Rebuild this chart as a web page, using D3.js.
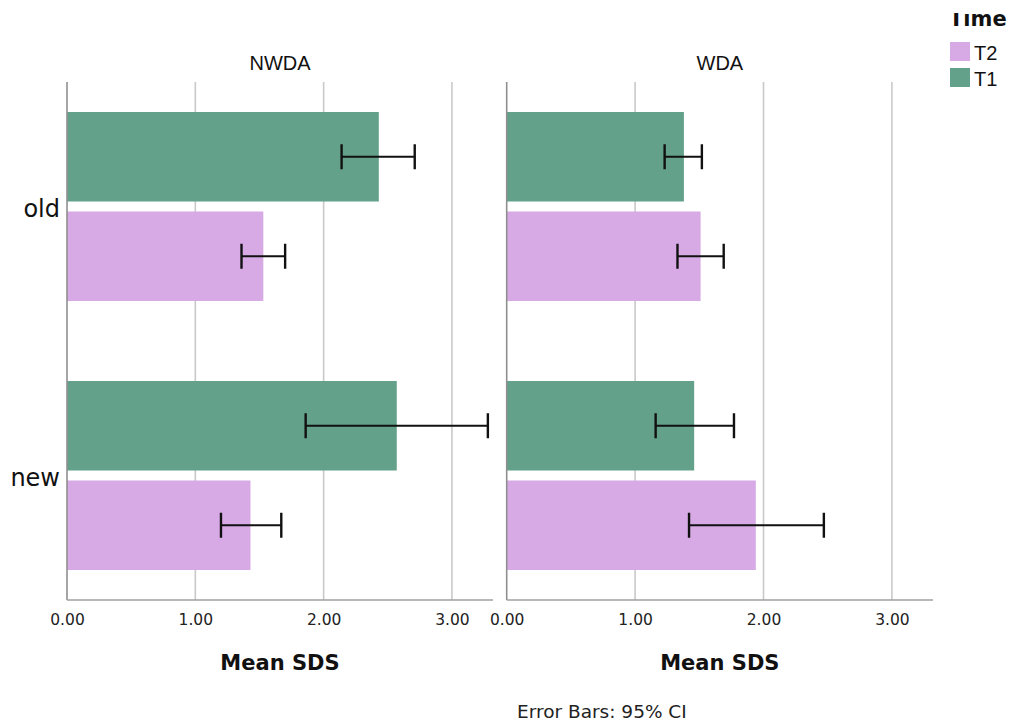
<!DOCTYPE html>
<html><head><meta charset="utf-8">
<script src="https://cdn.jsdelivr.net/npm/d3@7"></script>
<style>body{margin:0;background:#fff}svg{display:block}</style>
</head><body>
<script>
// ---- data ----
const panels = ["NWDA", "WDA"];
const categories = ["old", "new"];
const series = ["T1", "T2"];
const legendOrder = ["T2", "T1"];
const xTicks = [0, 1, 2, 3];
const xTickLabels = ["0.00", "1.00", "2.00", "3.00"];
// means [old, new]
const nwdaT1 = [2.43, 2.57];
const nwdaT2 = [1.53, 1.43];
const wdaT1 = [1.38, 1.46];
const wdaT2 = [1.51, 1.94];
// 95% CI lower / upper [old, new]
const nwdaT1Lo = [2.14, 1.86], nwdaT1Hi = [2.71, 3.28];
const nwdaT2Lo = [1.36, 1.20], nwdaT2Hi = [1.70, 1.67];
const wdaT1Lo = [1.23, 1.16], wdaT1Hi = [1.52, 1.77];
const wdaT2Lo = [1.33, 1.42], wdaT2Hi = [1.69, 2.47];

const colors = {T1: "#63a18b", T2: "#d7aae6"};

const panelData = {
  NWDA: {T1: {m: nwdaT1, lo: nwdaT1Lo, hi: nwdaT1Hi}, T2: {m: nwdaT2, lo: nwdaT2Lo, hi: nwdaT2Hi}},
  WDA: {T1: {m: wdaT1, lo: wdaT1Lo, hi: wdaT1Hi}, T2: {m: wdaT2, lo: wdaT2Lo, hi: wdaT2Hi}}
};

const W = 1014, H = 724;
const svg = d3.select("body").append("svg").attr("width", W).attr("height", H);

const panelX = {NWDA: [67, 493], WDA: [506.7, 933]};
const yTop = 82, yBot = 600;

const y = d3.scaleBand().domain(categories).range([yTop, yBot])
  .paddingInner(80 / 269).paddingOuter(30 / 269);
const ySub = d3.scaleBand().domain(series).range([0, y.bandwidth()]).paddingInner(10 / 99.5);

panels.forEach(p => {
  const [x0, x1] = panelX[p];
  const x = d3.scaleLinear().domain([0, 3.32]).range([x0, x1]);
  const g = svg.append("g");

  // grid
  g.selectAll("line.grid").data(xTicks.slice(1)).enter().append("line")
    .attr("x1", d => x(d)).attr("x2", d => x(d))
    .attr("y1", yTop).attr("y2", yBot)
    .attr("stroke", "#c9c9c9").attr("stroke-width", 1.6);

  // bars
  categories.forEach((c, ci) => {
    series.forEach(s => {
      const d = panelData[p][s];
      const by = y(c) + ySub(s);
      g.append("rect").attr("x", x(0)).attr("y", by)
        .attr("width", x(d.m[ci]) - x(0)).attr("height", ySub.bandwidth())
        .attr("fill", colors[s]);
      const cy = by + ySub.bandwidth() / 2;
      g.append("line").attr("x1", x(d.lo[ci])).attr("x2", x(d.hi[ci]))
        .attr("y1", cy).attr("y2", cy).attr("stroke", "#111").attr("stroke-width", 1.8);
      [d.lo[ci], d.hi[ci]].forEach(v => {
        g.append("line").attr("x1", x(v)).attr("x2", x(v))
          .attr("y1", cy - 12.5).attr("y2", cy + 12.5)
          .attr("stroke", "#111").attr("stroke-width", 2.4);
      });
    });
  });

  // axes lines
  g.append("line").attr("x1", x0).attr("x2", x0).attr("y1", yTop).attr("y2", yBot)
    .attr("stroke", "#8f8f8f").attr("stroke-width", 1.6);
  g.append("line").attr("x1", x0).attr("x2", x1).attr("y1", yBot).attr("y2", yBot)
    .attr("stroke", "#a0a0a0").attr("stroke-width", 1.6);

  // bottom axis labels via d3 axis
  const ax = d3.axisBottom(x).tickValues(xTicks).tickSize(0)
    .tickFormat((d, i) => xTickLabels[i]);
  const axG = g.append("g").attr("transform", `translate(0,${yBot})`).call(ax);
  axG.select(".domain").remove();
  axG.selectAll("text").attr("dy", 0).attr("y", 25)
    .attr("font-family", "DejaVu Sans").attr("font-size", 15.5).attr("fill", "#222");

  // facet title
  g.append("text").attr("x", (x0 + x1) / 2).attr("y", 70).attr("text-anchor", "middle")
    .attr("font-family", "Liberation Sans").attr("font-size", 20).attr("fill", "#111").text(p);

  // axis title
  g.append("text").attr("x", (x0 + x1) / 2).attr("y", 670).attr("text-anchor", "middle")
    .attr("font-family", "DejaVu Sans").attr("font-weight", "bold").attr("font-size", 21)
    .attr("fill", "#111").text("Mean SDS");
});

// category labels
svg.selectAll("text.cat").data(categories).enter().append("text")
  .attr("x", 60).attr("y", d => y(d) + y.bandwidth() / 2 + 10)
  .attr("text-anchor", "end").attr("font-family", "DejaVu Sans").attr("font-size", 24)
  .attr("fill", "#111").text(d => d);

// footer
svg.append("text").attr("x", 517).attr("y", 718)
  .attr("font-family", "DejaVu Sans").attr("font-size", 18.5).attr("fill", "#222")
  .text("Error Bars: 95% CI");

// legend
svg.append("clipPath").attr("id", "topclip").append("rect")
  .attr("x", 900).attr("y", 13).attr("width", 114).attr("height", 40);
svg.append("text").attr("x", 949).attr("y", 26).attr("clip-path", "url(#topclip)")
  .attr("font-family", "DejaVu Sans").attr("font-weight", "bold").attr("font-size", 21)
  .attr("fill", "#111").text("Time");
legendOrder.forEach((s, i) => {
  svg.append("rect").attr("x", 950).attr("y", 42 + i * 26).attr("width", 20).attr("height", 19)
    .attr("fill", colors[s]);
  svg.append("text").attr("x", 974).attr("y", 60 + i * 26)
    .attr("font-family", "Liberation Sans").attr("font-size", 20).attr("fill", "#111").text(s);
});
</script>
</body></html>
